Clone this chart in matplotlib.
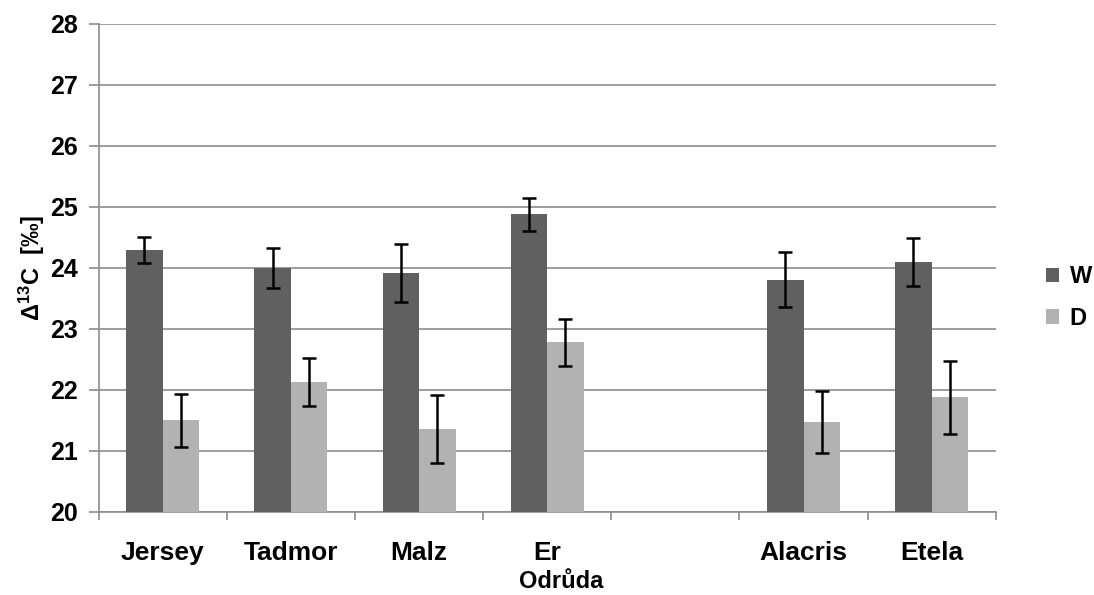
import matplotlib
matplotlib.use("Agg")
import matplotlib.pyplot as plt
import numpy as np

categories = ["Jersey", "Tadmor", "Malz", "Er", "", "Alacris", "Etela"]
w_values = [24.29, 24.00, 23.92, 24.88, np.nan, 23.81, 24.10]
w_errors = [0.21, 0.32, 0.47, 0.27, np.nan, 0.45, 0.39]
d_values = [21.50, 22.13, 21.36, 22.78, np.nan, 21.47, 21.88]
d_errors = [0.44, 0.40, 0.55, 0.38, np.nan, 0.51, 0.60]
series_names = ["W", "D"]
y_ticks = [20, 21, 22, 23, 24, 25, 26, 27, 28]

plt.rcParams['font.family'] = ['Liberation Sans', 'DejaVu Sans']
plt.rcParams['mathtext.fontset'] = 'custom'
plt.rcParams['mathtext.rm'] = 'Liberation Sans'
plt.rcParams['mathtext.bf'] = 'Liberation Sans:bold'

fig = plt.figure(figsize=(10.94, 5.95), dpi=100)
ax = fig.add_axes([0.0902, 0.1395, 0.8200, 0.8202])

x = np.arange(len(categories))
bw = 0.285
grid_c = '#8c8c8c'

ax.bar(x - bw / 2, w_values, bw, color='#606060', label=series_names[0], zorder=3)
ax.bar(x + bw / 2, d_values, bw, color='#b2b2b2', label=series_names[1], zorder=3)
ax.errorbar(x - bw / 2, w_values, yerr=w_errors, fmt='none', ecolor='black',
            elinewidth=1.8, capsize=5, capthick=1.8, zorder=4)
ax.errorbar(x + bw / 2, d_values, yerr=d_errors, fmt='none', ecolor='black',
            elinewidth=1.8, capsize=5, capthick=1.8, zorder=4)

ax.set_xlim(-0.5, len(categories) - 0.5)
ax.set_ylim(20, 28)
ax.set_yticks(y_ticks)
ax.set_yticklabels([str(t) for t in y_ticks], fontsize=18, fontweight='bold')
ax.yaxis.grid(True, color=grid_c, linewidth=1.2, zorder=0)
ax.set_axisbelow(True)

ax.set_xticks(x)
ax.set_xticklabels(categories, fontsize=19, fontweight='bold')
ax.set_xticks(np.arange(-0.5, len(categories), 1.0), minor=True)
ax.tick_params(axis='x', which='major', length=0, pad=21)
ax.tick_params(axis='x', which='minor', length=6, color=grid_c, width=1.2, direction='out')
ax.tick_params(axis='y', length=7, color=grid_c, width=1.2, direction='out', pad=8)

for s in ['top', 'right']:
    ax.spines[s].set_visible(False)
for s in ['left', 'bottom']:
    ax.spines[s].set_color(grid_c)
    ax.spines[s].set_linewidth(1.2)

ax.set_ylabel(r'Δ$\mathbf{^{13}}$C  [‰]', fontsize=17, fontweight='bold')
ax.yaxis.set_label_coords(-0.058, 0.5)
ax.set_xlabel('Odrůda', fontsize=17, fontweight='bold')
ax.xaxis.set_label_coords(0.516, -0.118)

leg = fig.legend(loc='center left', bbox_to_anchor=(0.956, 0.5), frameon=False,
                 prop={'size': 17, 'weight': 'bold'}, handlelength=0.55, handleheight=0.55,
                 handletextpad=0.45, labelspacing=0.8, borderpad=0, borderaxespad=0)

fig.savefig('out.png', dpi=100)
